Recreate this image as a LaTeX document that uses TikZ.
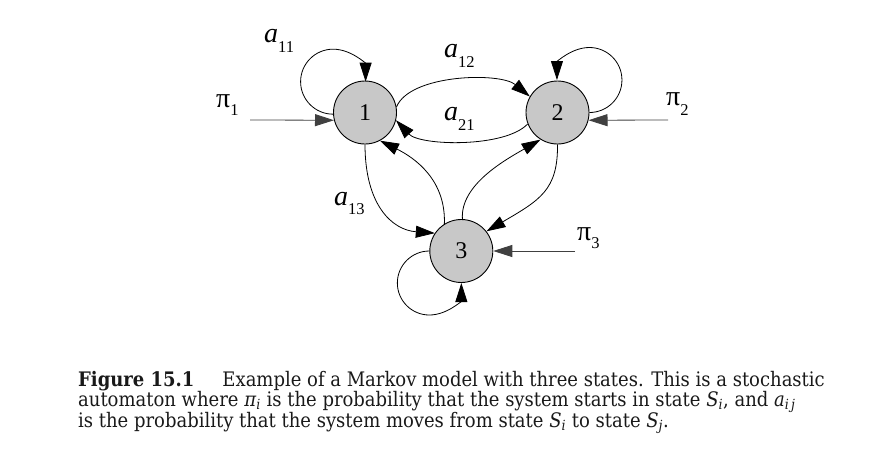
\documentclass[tikz,border=0pt]{standalone}
\usepackage{fontspec}
\setmainfont{DejaVu Serif Condensed}
\newfontfamily\timesf{Liberation Serif}
\usetikzlibrary{arrows.meta}
\definecolor{statefill}{RGB}{200,200,200}
\newcommand\mylab[3]{{\timesf\fontsize{28}{28}\selectfont #1}\raisebox{-#3pt}{\timesf\fontsize{16.5}{16}\selectfont #2}}
\begin{document}
\begin{tikzpicture}[x=1pt,y=1pt,
  state/.style={circle, draw=black, line width=0.9pt, fill=statefill, minimum size=63pt, inner sep=0pt, font=\timesf\fontsize{24}{24}\selectfont},
  edge/.style={line width=0.8pt, draw=black, -{Triangle[length=19pt,width=12pt]}},
  initedge/.style={edge, draw=black!75},
  lbl/.style={inner sep=0pt, anchor=base west},
  captext/.style={inner sep=0pt, anchor=base west, font=\fontsize{20}{22}\selectfont, text=black!90}
]
\useasboundingbox (0,0) rectangle (872,-464);

% states
\node[state] (s1) at (365,-112.5) {1};
\node[state] (s2) at (557.5,-112.5) {2};
\node[state] (s3) at (461.3,-251) {3};

% initial-probability arrows
\coordinate (p1) at (250,-120);
\coordinate (p2) at (668,-120);
\coordinate (p3) at (575,-251);
\draw[initedge] (p1) -- (s1.194);
\draw[initedge] (p2) -- (s2.-14);
\draw[initedge] (p3) -- (s3.east);

% self loops
\draw[edge] (s1.183) arc[start angle=270, end angle=0, radius=32.5];
\draw[edge] (s2.0) arc[start angle=-90, end angle=180, radius=32.5];
\draw[edge] (s3.180) arc[start angle=90, end angle=360, radius=32];

% transitions
\draw[edge] (s1.10) .. controls (410,-74) and (500,-72) .. (s2.150);
\draw[edge] (s2.201) .. controls (505,-148) and (420,-146) .. (s1.-14);
\draw[edge] (s1.-90) .. controls (365,-205) and (392,-230) .. (s3.146);
\draw[edge] (s3.122) .. controls (446,-180) and (415,-158) .. (s1.-62);
\draw[edge] (s3.88) .. controls (460,-185) and (505,-160) .. (s2.238);
\draw[edge] (s2.-90) .. controls (558,-190) and (540,-200) .. (s3.38);

% labels
\node[lbl] (la11) at (264,-42) {\mylab{\itshape a}{11}{10}};
\node[lbl] (la12) at (444,-57) {\mylab{\itshape a}{12}{10}};
\node[lbl] (la21) at (444,-120) {\mylab{\itshape a}{21}{10}};
\node[lbl] (la13) at (334,-205) {\mylab{\itshape a}{13}{9}};
\node[lbl] (lp1) at (216,-107) {\mylab{π}{1}{8}};
\node[lbl] (lp2) at (666,-105) {\mylab{π}{2}{10}};
\node[lbl] (lp3) at (577,-240) {\mylab{π}{3}{8}};

% caption
\node[captext] (c1) at (78,-386) {\textbf{Figure 15.1}\hspace{1.4em}Example of a Markov model with three states. This is a stochastic};
\node[captext] (c2) at (78,-406) {automaton where \textit{π}\textsubscript{\textit{i}} is the probability that the system starts in state \textit{S}\textsubscript{\textit{i}}, and \textit{a}\textsubscript{\textit{i\,j}}};
\node[captext] (c3) at (78,-427) {is the probability that the system moves from state \textit{S}\textsubscript{\textit{i}} to state \textit{S}\textsubscript{\textit{j}}.};
\end{tikzpicture}
\end{document}
